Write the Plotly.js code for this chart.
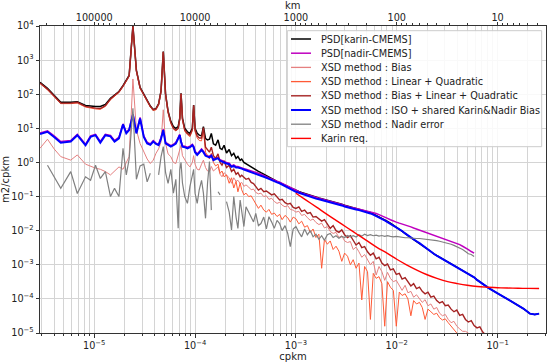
<!DOCTYPE html>
<html><head><meta charset="utf-8">
<script src="https://cdn.plot.ly/plotly-3.0.1.min.js"></script>
<style>html,body{margin:0;padding:0;background:#fff}#chart{width:550px;height:363px}</style>
</head><body><div id="chart"></div>
<script>
// frequency grid (cpkm)
const freq = [2.9e-6,3.44e-6,4.0e-6,4.66e-6,5.85e-6,6.8e-6,8.2e-6,9.2e-6,1.03e-5,1.15e-5,
1.29e-5,1.45e-5,1.59e-5,1.76e-5,1.93e-5,2.08e-5,2.22e-5,2.42e-5,2.62e-5,2.85e-5,
3.1e-5,3.35e-5,3.6e-5,3.85e-5,4.1e-5,4.35e-5,4.6e-5,4.84e-5,5.1e-5,5.4e-5,
5.75e-5,6.1e-5,6.45e-5,6.8e-5,7.05e-5,7.26e-5,7.5e-5,7.9e-5,8.4e-5,8.9e-5,
9.4e-5,9.68e-5,1.0e-4,1.05e-4,1.1e-4,1.16e-4,1.21e-4,1.27e-4,1.33e-4,1.39e-4,
1.45e-4,1.52e-4,1.6e-4,1.69e-4,1.77e-4,1.85e-4,1.94e-4,2.05e-4,2.18e-4,2.3e-4,
2.42e-4,2.55e-4,2.66e-4,2.8e-4,2.9e-4,3.05e-4,3.2e-4,3.4e-4,3.6e-4,3.8e-4,
4.0e-4,4.25e-4,4.5e-4,4.8e-4,5.1e-4,5.4e-4,5.75e-4,6.1e-4,6.5e-4,6.9e-4,
7.3e-4,7.8e-4,8.3e-4,8.8e-4,9.4e-4,1.0e-3,1.07e-3,1.14e-3,1.22e-3,1.3e-3,
1.39e-3,1.48e-3,1.58e-3,1.69e-3,1.8e-3,1.92e-3,2.05e-3,2.19e-3,2.34e-3,2.5e-3,
2.67e-3,2.85e-3,3.04e-3,3.25e-3,3.47e-3,3.7e-3,3.95e-3,4.22e-3,4.5e-3,4.8e-3,
5.13e-3,5.48e-3,5.85e-3,6.25e-3,6.67e-3,7.12e-3,7.6e-3,8.1e-3,8.65e-3,9.25e-3,
9.9e-3,1.06e-2,1.13e-2,1.21e-2,1.29e-2,1.38e-2,1.47e-2,1.57e-2,1.68e-2,1.79e-2,
1.91e-2,2.04e-2,2.18e-2,2.33e-2,2.49e-2,2.66e-2,2.84e-2,3.03e-2,3.24e-2,3.46e-2,
3.69e-2,3.94e-2,4.21e-2,4.5e-2,4.8e-2,5.13e-2,5.48e-2,5.85e-2,6.25e-2,6.67e-2,
7.12e-2,7.6e-2,8.1e-2,8.65e-2,9.25e-2];
const freqTail = [0.1,0.123,0.15,0.18,0.209,0.234,0.258];

const psdKarin = [224,148,93,58,58,60,47,45,44,44,
50,76,95,120,178,250,355,10000,500,158,
100,71,45,35,38,52,126,1780,100,32,
16,11.2,10,11.2,20,107,20,10,7.9,7.1,
10,48,10,7.1,6.3,6.0,11.2,5.0,4.6,4.8,
7.1,3.5,3.2,4.6,2.6,2.4,3.2,1.9,2.4,1.58,
1.86,1.32,1.5,1.15,1.26,1.0,0.91,0.81,0.74,0.68,
0.62,0.55,0.50,0.45,0.40,0.36,0.33,0.30,0.28,0.257,
0.24,0.22,0.20,0.182,0.166,0.151,0.141,0.132,0.123,0.115,
0.107,0.1,0.095,0.091,0.087,0.083,0.079,0.076,0.072,0.069,
0.065,0.060,0.056,0.052,0.050,0.047,0.045,0.043,0.040,0.038,
0.036,0.034,0.031,0.028,0.0257,0.0234,0.0209,0.0186,0.0166,0.0145,
0.0132,0.0112,0.0098,0.0083,0.0072,0.0063,0.0055,0.0049,0.0043,0.0037,
0.0032,0.0028,0.00245,0.0021,0.00186,0.00166,0.00148,0.00132,0.00117,0.00105,
0.00093,0.00085,0.00076,0.00068,0.0006,0.00054,0.00048,0.00043,0.00036,0.00032,
0.00028,0.00024,0.00021,0.00019,0.000166,
0.000145,0.000102,7.2e-5,5.2e-5,3.7e-5,3.5e-5,3.7e-5];

const psdNadir = [7.3,8.4,6.0,4.1,4.4,6.7,3.4,6.0,6.7,4.1,
6.7,6.2,4.4,5.5,13.5,7.6,9.5,26,7.6,21,
6.0,3.9,3.5,4.4,3.7,3.4,5.4,9.5,3.9,3.5,
3.1,3.4,3.9,5.4,6.7,4.3,3.1,3.0,2.8,3.0,
3.4,3.0,2.15,1.78,2.15,2.5,2.15,1.69,1.58,1.51,
1.69,1.25,1.35,1.41,1.2,1.12,1.07,1.0,0.95,0.79,
0.85,0.76,0.76,0.71,0.71,0.66,0.63,0.60,0.56,0.535,
0.51,0.48,0.45,0.42,0.38,0.35,0.32,0.30,0.28,0.262,
0.24,0.214,0.195,0.178,0.162,0.148,0.138,0.128,0.12,0.112,
0.105,0.097,0.093,0.089,0.085,0.081,0.077,0.074,0.071,0.067,
0.063,0.059,0.055,0.051,0.049,0.047,0.045,0.043,0.041,0.039,
0.037,0.036,0.034,0.032,0.0295,0.0275,0.025,0.0229,0.0209,0.019,
0.0178,0.0166,0.0158,0.0148,0.0138,0.0129,0.012,0.0112,0.0105,0.010,
0.0093,0.0087,0.0081,0.0076,0.0071,0.0066,0.0062,0.0058,0.0054,0.0050,
0.0047,0.0043,0.0039,0.0035,0.0032,0.0028,0.00245,0.0022,null,null,
null,null,null,null,null];

const xsdBias = [2.6,4.8,2.5,1.48,1.17,1.66,0.89,0.76,0.68,0.63,
0.54,0.43,0.54,0.74,0.63,1.0,1.48,280,8.9,3.6,
2.0,1.26,0.93,1.17,1.86,2.5,4.0,35,3.6,1.78,
1.48,1.0,0.93,1.58,2.0,3.2,1.58,1.17,0.89,0.74,
1.0,1.58,0.89,0.63,0.6,0.89,1.17,0.71,0.56,0.54,
0.76,0.56,0.63,0.74,0.45,0.38,0.5,0.43,0.355,0.245,
0.355,0.28,0.3,0.24,0.26,0.2,0.22,0.19,0.158,0.166,
0.132,0.12,0.126,0.1,0.105,0.083,0.089,0.072,0.063,0.068,
0.056,0.05,0.054,0.042,0.04,0.035,0.037,0.028,0.03,0.024,
0.02,0.022,0.0174,0.0151,0.0166,0.012,0.0132,0.0095,0.0083,0.0089,
0.0063,0.0071,0.005,0.0045,0.0048,0.0028,0.0033,0.0024,0.00166,0.002,
0.00141,0.001,0.00126,0.0005,0.00089,0.00063,0.00035,0.0006,0.0004,0.00032,
0.00035,0.00024,0.000178,0.00025,0.000151,0.000166,0.000112,0.000132,1.0e-4,7.9e-5,
9.5e-5,6.3e-5,7.1e-5,5.0e-5,5.6e-5,3.8e-5,3.2e-5,3.5e-5,2.5e-5,2.0e-5,
2.2e-5,1.58e-5,1.32e-5,1.12e-5,1.12e-5,1.0e-5,7.9e-6,4.5e-6,4.0e-6,3.5e-6,
3.0e-6,2.5e-6,2.2e-6,2.0e-6,1.8e-6];

const xsdLinQuad = [205,135,85,53,53,55,42,39,37,36,
44,69,89,112,167,235,333,9400,470,149,
94,66,42,33,35,49,118,1680,94,29,
14,9.5,8.4,9.5,17.5,100,17,8.2,6.5,5.7,
8.5,44,8.0,5.2,4.4,4.3,9.0,2.0,1.58,1.26,
1.86,1.0,0.79,0.89,0.48,0.56,0.38,0.43,0.245,0.355,
0.178,0.28,0.138,0.25,0.158,0.112,0.126,0.1,0.105,0.079,
0.063,0.045,0.056,0.04,0.035,0.042,0.03,0.033,0.026,0.03,
0.021,0.028,0.024,0.0178,0.025,0.0224,0.0158,0.019,0.0126,0.0141,
0.0089,0.0112,0.0063,0.0079,0.00079,0.0056,0.004,0.005,0.0028,0.0035,
0.0025,0.00126,0.0022,0.00178,0.001,0.00141,0.00079,0.00112,9.3e-5,0.00089,
0.00063,2.5e-5,0.00056,0.0004,0.00045,0.00028,1.58e-5,0.00032,0.00022,0.000178,
1.58e-5,0.000158,0.000126,0.000141,1.0e-4,3.2e-5,8.9e-5,7.1e-5,7.9e-5,5.6e-5,
2.5e-5,5.0e-5,4.2e-5,3.5e-5,3.8e-5,2.8e-5,2.4e-5,2.6e-5,2.0e-5,1.58e-5,
1.26e-5,1.0e-5,7.9e-6,7e-6,6e-6,5e-6,4.5e-6,4e-6,3.5e-6,3e-6,
2.8e-6,2.5e-6,2.2e-6,2e-6,1.8e-6];

const xsdBiasLinQuad = [214,141,89,55,55,58,44,41,39,38,
46,72,93,117,174,245,347,9800,490,155,
98,69,44,35,37,51,123,1750,98,30,
14.8,10,8.9,10,18.6,105,18.6,8.9,7.1,6.3,
9.3,47,8.9,6.0,5.2,5.2,10.5,2.8,2.4,2.0,
2.8,1.58,1.32,1.78,1.0,0.83,1.12,0.71,0.83,0.54,
0.63,0.45,0.5,0.38,0.42,0.355,0.32,0.34,0.26,0.24,
0.19,0.155,0.174,0.138,0.145,0.126,0.112,0.12,0.093,0.079,
0.083,0.066,0.06,0.063,0.048,0.045,0.05,0.037,0.04,0.032,
0.034,0.025,0.026,0.022,0.019,0.021,0.0158,0.0117,0.0141,0.01,
0.0089,0.0105,0.0076,0.0063,0.0071,0.005,0.0038,0.0045,0.0032,0.0034,
0.0024,0.0019,0.0022,0.0015,0.00166,0.00112,0.00095,0.00105,0.00071,0.00076,
0.00052,0.00056,0.00038,0.00042,0.00032,0.00024,0.00028,0.0002,0.00022,0.000166,
0.000141,0.000158,0.000112,0.00012,8.9e-5,7.6e-5,8.3e-5,6.3e-5,6.6e-5,5.0e-5,
4.2e-5,4.7e-5,3.3e-5,3.5e-5,2.5e-5,2.1e-5,2.3e-5,1.66e-5,1.41e-5,1.51e-5,
1.07e-5,8.9e-6,7.6e-6,6.3e-6,5.0e-6];

const xsdIso = [6.8,7.9,5.6,3.8,4.1,6.3,3.2,5.6,6.3,3.8,
6.3,5.8,4.1,5.1,13,7.1,8.9,25,7.1,19.5,
5.6,3.6,3.3,4.1,3.5,3.2,5.0,8.9,3.6,3.3,
2.9,3.2,3.6,5.0,6.3,4.0,2.9,2.8,2.6,2.8,
3.2,2.8,2.0,1.66,2.0,2.3,2.0,1.58,1.48,1.41,
1.58,1.17,1.26,1.32,1.12,1.05,1.0,0.93,0.89,0.74,
0.79,0.71,0.71,0.66,0.66,0.62,0.59,0.56,0.52,0.50,
0.48,0.45,0.42,0.39,0.355,0.33,0.30,0.28,0.26,0.245,
0.224,0.20,0.182,0.166,0.151,0.138,0.129,0.12,0.112,0.105,
0.098,0.091,0.087,0.083,0.079,0.076,0.072,0.069,0.066,0.063,
0.059,0.055,0.051,0.048,0.046,0.044,0.042,0.040,0.038,0.036,
0.035,0.032,0.0295,0.027,0.0245,0.0224,0.020,0.0178,0.0158,0.0141,
0.0129,0.0112,0.0098,0.0083,0.0072,0.0063,0.0055,0.0049,0.0043,0.0037,
0.0032,0.0028,0.00245,0.0021,0.00186,0.00166,0.00148,0.00132,0.00117,0.00105,
0.00093,0.00085,0.00076,0.00068,0.0006,0.00054,0.00048,0.00043,0.00036,0.00032,
0.00028,0.00024,0.00021,0.00019,0.000166,
0.000145,0.000102,7.2e-5,5.2e-5,3.7e-5,3.5e-5,3.7e-5];

const xsdNadirErr = [null,0.83,0.40,0.174,0.54,0.123,0.38,0.30,0.83,0.34,
0.54,0.10,0.174,0.10,2.6,0.43,1.26,39,0.32,0.79,
0.89,0.27,0.48,null,null,0.43,1.48,2.9,0.5,0.245,
0.63,0.126,0.32,0.0117,0.60,1.0,0.25,0.10,0.063,0.20,
0.38,0.63,0.126,0.063,0.158,0.30,0.126,0.023,0.25,1.07,
0.04,null,null,0.138,0.112,null,null,0.071,0.035,0.0105,
0.10,0.025,0.0117,0.079,0.032,0.0132,0.05,0.035,0.0257,0.018,
0.032,0.0141,0.0162,0.025,0.0112,0.0257,0.0178,0.0117,0.02,0.0162,
0.01,0.0141,0.0083,0.0034,0.0112,0.0132,0.0089,0.0066,0.0112,0.0076,
0.01,0.0066,0.0079,0.0056,0.0071,0.0052,0.0076,0.0083,0.0063,0.0071,
0.006,0.0068,0.0063,0.0072,0.0066,0.0071,0.0065,0.0076,0.0069,0.0079,
0.0072,0.0076,0.0071,0.0074,0.0069,0.0072,0.0068,0.0071,0.0068,0.0066,
0.0068,0.0065,0.0063,0.0062,0.0062,0.006,0.006,0.0059,0.0059,0.0058,
0.0056,0.0055,0.0054,0.0052,0.0051,0.0049,0.0047,0.0045,0.0043,0.004,
0.0037,0.0034,0.0031,0.0028,0.00245,0.0021,0.002,0.00174,null,null,
null,null,null,null,null];

const freqReq = [1e-3,1.25e-3,1.6e-3,2e-3,2.5e-3,3.2e-3,4e-3,5e-3,6.3e-3,8e-3,1e-2,1.25e-2,1.6e-2,2e-2,2.5e-2,3.2e-2,4e-2,5e-2,6.3e-2,8e-2,0.1,0.125,0.16,0.2,0.258];
const karinReq = [0.125,0.08,0.049,0.031,0.02,0.0124,0.008,0.0052,0.0033,0.0022,0.00145,0.001,0.00069,0.00051,0.0004,0.00032,0.00028,0.00025,0.00023,0.00022,0.000213,0.000208,0.000205,0.000203,0.000202];

const seriesNames = ['PSD[karin-CMEMS]','PSD[nadir-CMEMS]','XSD method : Bias','XSD method : Linear + Quadratic','XSD method : Bias + Linear + Quadratic','XSD method : ISO + shared Karin&Nadir Bias','XSD method : Nadir error','Karin req.'];
const seriesColors = ['#000000','#bf00bf','#e58080','#ff5a36','#a52323','#0000ff','#808080','#ff0000'];
const seriesWidths = [1.5,1.5,1,1,1.4,2,1.2,1.4];

const cpkmTicks = [1e-5,1e-4,1e-3,1e-2,1e-1];
const cpkmLabels = ['10<sup>−5</sup>','10<sup>−4</sup>','10<sup>−3</sup>','10<sup>−2</sup>','10<sup>−1</sup>'];
const kmLabels = ['100000','10000','1000','100','10'];
const yTicks = [1e-5,1e-4,1e-3,1e-2,1e-1,1,10,100,1000,10000];
const yLabels = ['10<sup>−5</sup>','10<sup>−4</sup>','10<sup>−3</sup>','10<sup>−2</sup>','10<sup>−1</sup>','10<sup>0</sup>','10<sup>1</sup>','10<sup>2</sup>','10<sup>3</sup>','10<sup>4</sup>'];

const xFull = freq.concat(freqTail);
const seriesX = [xFull, freq, freq, freq, freq, xFull, freq, freqReq];
const seriesY = [psdKarin, psdNadir, xsdBias, xsdLinQuad, xsdBiasLinQuad, xsdIso, xsdNadirErr, karinReq];

const traces = seriesNames.map((n,i)=>({
  type:'scatter', mode:'lines', name:n, x:seriesX[i], y:seriesY[i],
  line:{color:seriesColors[i], width:seriesWidths[i], shape: i===7?'spline':'linear'},
  showlegend:false, hoverinfo:'skip'
}));
traces.push({type:'scatter', mode:'lines', x:[], y:[], xaxis:'x2', yaxis:'y', showlegend:false, hoverinfo:'skip'});

// minor tick positions (axis decoration)
const minorCpkm = [], minorKm = [];
for (let e=-6; e<=0; e++) for (let k=2; k<=9; k++) minorCpkm.push(k*Math.pow(10,e));
for (let e=0; e<=6; e++) for (let k=2; k<=9; k++) minorKm.push(1/(k*Math.pow(10,e)));

const W=550, H=363, L=40, R=546, T=26, B=333;
const xr = [Math.log10(2.9e-6), -0.52];
const px2x = p => (p-L)/(R-L);
const py2y = p => (B-p)/(B-T);

const shapes = [], annotations = [];
// legend box
shapes.push({type:'rect', xref:'paper', yref:'paper', x0:px2x(287.3), x1:px2x(541.7), y0:py2y(146.7), y1:py2y(30.7),
  line:{color:'#cccccc', width:1}, fillcolor:'rgba(255,255,255,0.85)', layer:'above'});
seriesNames.forEach((n,i)=>{
  const py = 39 + i*14.2;
  shapes.push({type:'line', xref:'paper', yref:'paper', x0:px2x(291), x1:px2x(311), y0:py2y(py), y1:py2y(py),
    line:{color:seriesColors[i], width:Math.max(1.3, seriesWidths[i])}, layer:'above'});
  annotations.push({xref:'paper', yref:'paper', x:px2x(318.5), y:py2y(py), xanchor:'left', yanchor:'middle',
    text:n.replace('&','&amp;'), showarrow:false, font:{size:9.7, color:'#222'}});
});
// top axis title (km), placed above its tick labels
annotations.push({xref:'paper', yref:'paper', x:0.5, y:py2y(5.5), xanchor:'center', yanchor:'middle',
  text:'km', showarrow:false, font:{size:10, color:'#222'}});

const axisCommon = {type:'log', range:xr, showline:true, linecolor:'#333', linewidth:1, ticks:'outside', ticklen:3.5, tickcolor:'#333', zeroline:false};

const layout = {
  width:W, height:H, margin:{l:L, r:W-R, t:T, b:H-B, pad:0},
  paper_bgcolor:'#fff', plot_bgcolor:'#fff',
  font:{family:'DejaVu Sans, sans-serif', size:9.7, color:'#222'},
  showlegend:false,
  xaxis: Object.assign({}, axisCommon, {
    tickmode:'array', tickvals:cpkmTicks, ticktext:cpkmLabels,
    showgrid:true, gridcolor:'#d4d4d4', gridwidth:1,
    minor:{tickmode:'array', tickvals:minorCpkm, ticks:'outside', ticklen:2, tickcolor:'#333', showgrid:true, gridcolor:'#d4d4d4', gridwidth:1},
    title:{text:'cpkm', standoff:2, font:{size:10}}
  }),
  xaxis2: Object.assign({}, axisCommon, {
    overlaying:'x', side:'top', anchor:'y', ticklabelstandoff:-3,
    tickmode:'array', tickvals:cpkmTicks, ticktext:kmLabels, showgrid:false,
    minor:{tickmode:'array', tickvals:minorKm, ticks:'outside', ticklen:2, tickcolor:'#333', showgrid:false}
  }),
  yaxis: {type:'log', range:[-5,4], showline:true, mirror:true, linecolor:'#333', linewidth:1,
    ticks:'outside', ticklen:3.5, tickcolor:'#333', tickmode:'array', tickvals:yTicks, ticktext:yLabels,
    showgrid:true, gridcolor:'#d4d4d4', gridwidth:1, zeroline:false,
    title:{text:'m2/cpkm', standoff:2, font:{size:10}}},
  shapes:shapes, annotations:annotations
};

Plotly.newPlot('chart', traces, layout, {staticPlot:true, displayModeBar:false});
</script>
</body></html>
